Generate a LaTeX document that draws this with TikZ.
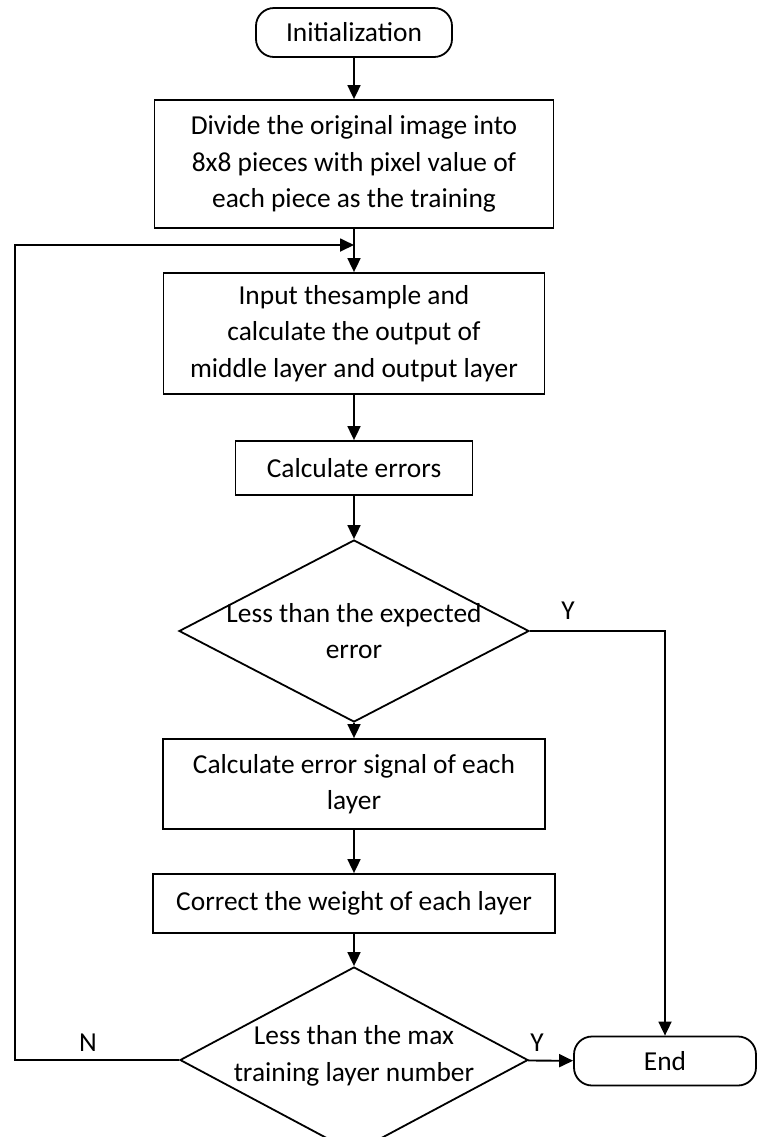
\documentclass[tikz,border=0pt]{standalone}
\usepackage{fontspec}
\setmainfont{Carlito}
\usetikzlibrary{positioning}
\usetikzlibrary{shapes.geometric}
\usetikzlibrary{arrows.meta}

\tikzset{
  box/.style={draw, rectangle, line width=0.9pt, align=center, inner sep=0pt},
  term/.style={draw, rectangle, rounded corners=9pt, line width=0.9pt, align=center, inner sep=0pt, minimum height=24.5pt},
  decision/.style={draw, diamond, line width=0.9pt, inner sep=0pt},
  flow/.style={line width=0.9pt, -{Triangle[length=7pt,width=6.5pt]}},
}

\begin{document}
\begin{tikzpicture}[x=0.5pt, y=-0.5pt, font=\fontsize{13.7}{18.2}\selectfont]
\useasboundingbox (0,0) rectangle (758,1137);

\node [term, minimum width=98pt] (init) at (354,32.5) {Initialization};
\node [box, minimum width=199.5pt, minimum height=64pt] (divide) at (354,164) {Divide the original image into\\8x8 pieces with pixel value of\\each piece as the training};
\node [box, minimum width=190.5pt, minimum height=60.5pt] (input) at (354,333.5) {Input thesample and\\calculate the output of\\middle layer and output layer};
\node [box, minimum width=118.5pt, minimum height=27pt] (calc) at (354,468) {Calculate errors};
\node [decision, minimum width=175pt, minimum height=91pt] (dec1) at (354,631) {};
\node [align=center] (dec1text) at (dec1) {Less than the expected\\error};
\node [box, minimum width=191pt, minimum height=45pt] (signal) at (354,784) {Calculate error signal of each\\layer};
\node [box, minimum width=201pt, minimum height=29.5pt] (correct) at (354,903.5) {Correct the weight of each layer};
\node [decision, minimum width=174pt, minimum height=93pt] (dec2) at (354,1060) {};
\node [align=center] (dec2text) at ([yshift=2pt]dec2.center) {Less than the max\\training layer number};
\node [term, minimum width=91pt] (endbox) at (665,1061) {End};

\node (y1) at (568,611) {Y};
\node (y2) at (537,1043) {Y};
\node (n) at (88,1043) {N};

\coordinate (merge) at (354,245);
\coordinate (loopleft) at (15,245);

\draw [flow] (init) -- (divide);
\draw [flow] (divide) -- (input);
\draw [flow] (input) -- (calc);
\draw [flow] (calc) -- (dec1);
\draw [flow] (dec1) -- (signal);
\draw [flow] (signal) -- (correct);
\draw [flow] (correct) -- (dec2);
\draw [flow] (dec2) -- (endbox);
\draw [flow] (dec1.east) -| (endbox.north);
\draw [flow] (dec2.west) -| (loopleft) -- (merge);
\end{tikzpicture}
\end{document}
